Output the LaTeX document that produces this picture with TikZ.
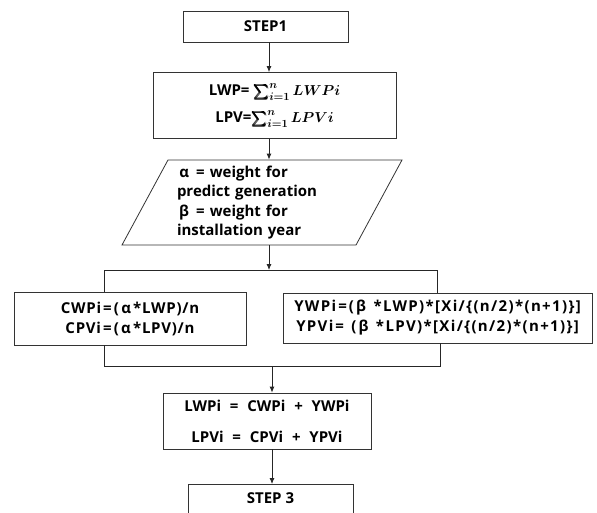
\documentclass[tikz,border=0pt]{standalone}
\usepackage{amsmath}
\usepackage{bm}
\usepackage{fontspec}
\setmainfont{Open Sans}
\newfontfamily\widefont{Open Sans}[LetterSpace=9]
\newfontfamily\halfwidefont{Open Sans}[LetterSpace=5]
\usetikzlibrary{arrows.meta,shapes.geometric}

% full-width greek letters and signs
\newcommand{\gk}[1]{\makebox[0.95em]{#1}}
\newcommand{\eqs}{\makebox[0.85em]{=}}
\newcommand{\pls}{\makebox[0.85em]{+}}
\newcommand{\widespace}{\spaceskip 0.45em\relax}

\begin{document}
\begin{tikzpicture}[x=1pt,y=1pt,
    box/.style={draw=black!80, line width=0.8pt, align=center, inner sep=0pt,
        font=\bfseries\fontsize{15}{20}\selectfont},
    flow/.style={draw=black!85, line width=0.8pt, -{Latex[length=6pt,width=5pt]}},
    link/.style={draw=black!85, line width=0.8pt}]
    \path[use as bounding box, clip] (0,0) rectangle (597,-512);

    % Spine of the chart
    \coordinate (spine) at (269,0);

    % Steps
    \node (step1) [box, minimum width=165, minimum height=31] at (265.5,-26.5) {STEP1};
    \node (sums) [box, minimum width=243, minimum height=66] at (274.5,-105.5)
        {LWP= $\bm{\sum_{i=1}^{n} LWPi}$\\[7pt]LPV=$\bm{\sum_{i=1}^{n} LPVi}$};
    \node (params) [box, shape=trapezium, trapezium left angle=58, trapezium right angle=122,
        trapezium stretches body, minimum width=280, minimum height=85,
        align=left, text width=170, font=\bfseries\fontsize{15}{19.5}\selectfont]
        at (262,-202.5)
        {\gk{α} = weight for\\predict generation\\\gk{β} = weight for\\installation year};

    % Two weights
    \node (cbox) [box, minimum width=232, minimum height=53,
        font=\halfwidefont\bfseries\fontsize{15}{20}\selectfont] at (130,-318.5)
        {CWPi\eqs(\gk{α}*LWP)/n\\CPVi\eqs(\gk{α}*LPV)/n};
    \node (ybox) [box, minimum width=309, minimum height=50,
        font=\widefont\bfseries\fontsize{15}{20}\selectfont] at (437.5,-318)
        {YWPi\eqs(\gk{β} *LWP)*[Xi/\{(n/2)*(n+1)\}]\\YPVi\eqs\ (\gk{β} *LPV)*[Xi/\{(n/2)*(n+1)\}]};

    % Sum of both
    \node (total) [box, minimum width=208, minimum height=56] at (267,-421)
        {\widespace LWPi \eqs{} CWPi \pls{} YWPi\\[11pt]\widespace LPVi \eqs{} CPVi \pls{} YPVi};
    \node (step3) [box, anchor=north, minimum width=165, text height=14, text depth=20,
        inner ysep=5] at (270.5,-484) {STEP 3};

    % Split and join points
    \coordinate (splitL) at (104,-270);
    \coordinate (splitR) at (437,-270);
    \coordinate (joinL) at (104,-366);
    \coordinate (joinR) at (440,-366);

    % Connectors
    \draw [flow] (step1.south -| spine) -- (sums.north -| spine);
    \draw [flow] (sums.south -| spine) -- (params.north -| spine);
    \draw [flow] (params.south -| spine) -- (splitL -| spine);
    \draw [link] (splitL |- cbox.north) -- (splitL) -- (splitR) -- (splitR |- ybox.north);
    \draw [link] (joinL |- cbox.south) -- (joinL) -- (joinR) -- (joinR |- ybox.south);
    \draw [flow] (joinL -| total) ++(5,0) -- ([xshift=5pt]total.north);
    \draw [flow] ([xshift=5pt]total.south) -- ([xshift=5pt]total.south |- step3.north);
\end{tikzpicture}
\end{document}
